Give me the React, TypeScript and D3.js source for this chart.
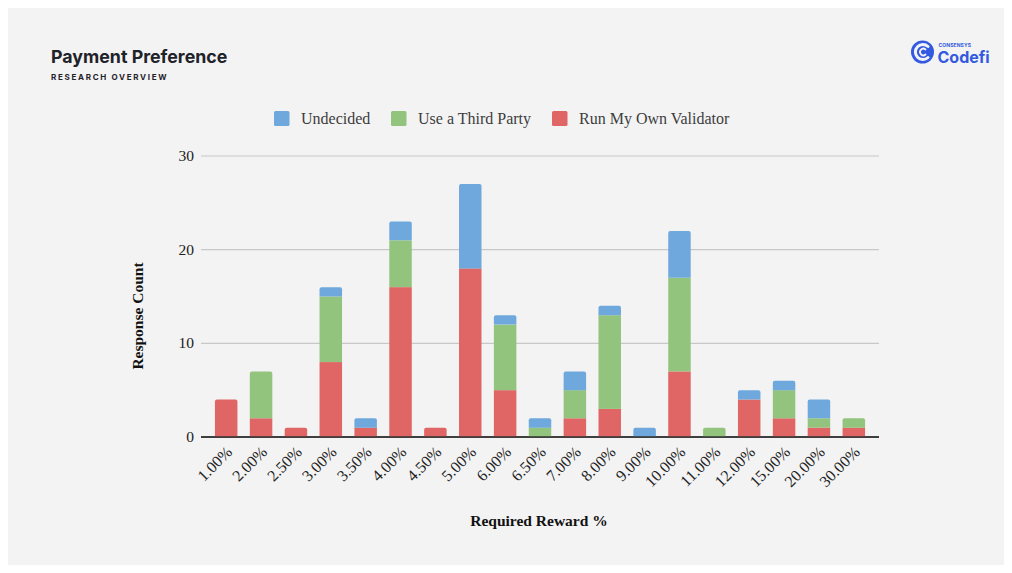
import React from "react";
import * as d3 from "d3";

const categories = ["1.00%", "2.00%", "2.50%", "3.00%", "3.50%", "4.00%", "4.50%", "5.00%", "6.00%", "6.50%", "7.00%", "8.00%", "9.00%", "10.00%", "11.00%", "12.00%", "15.00%", "20.00%", "30.00%"];
const runOwn = [4, 2, 1, 8, 1, 16, 1, 18, 5, 0, 2, 3, 0, 7, 0, 4, 2, 1, 1];
const thirdParty = [0, 5, 0, 7, 0, 5, 0, 0, 7, 1, 3, 10, 0, 10, 1, 0, 3, 1, 1];
const undecided = [0, 0, 0, 1, 1, 2, 0, 9, 1, 1, 2, 1, 1, 5, 0, 1, 1, 2, 0];
const yTicks = [0, 10, 20, 30];
const seriesNames = ["Run My Own Validator", "Use a Third Party", "Undecided"];
const legendOrder = ["Undecided", "Use a Third Party", "Run My Own Validator"];
const colors: Record<string, string> = {
  "Run My Own Validator": "#e06666",
  "Use a Third Party": "#93c47d",
  "Undecided": "#6fa8dc",
};

const SERIF = "'Liberation Serif', 'Times New Roman', serif";
const SANS = "Inter, 'Noto Sans', sans-serif";

function topRoundedRect(x: number, y: number, w: number, h: number, r: number) {
  const rr = Math.min(r, h);
  const p = d3.path();
  p.moveTo(x, y + h);
  p.lineTo(x, y + rr);
  p.quadraticCurveTo(x, y, x + rr, y);
  p.lineTo(x + w - rr, y);
  p.quadraticCurveTo(x + w, y, x + w, y + rr);
  p.lineTo(x + w, y + h);
  p.closePath();
  return p.toString();
}

export default function App() {
  const x = d3.scaleBand<string>().domain(categories).range([201, 879]).paddingInner(0.355).paddingOuter(0.4);
  const y = d3.scaleLinear().domain([0, 30]).range([437, 156]);

  const table = categories.map((c, i) => ({
    cat: c,
    "Run My Own Validator": runOwn[i],
    "Use a Third Party": thirdParty[i],
    "Undecided": undecided[i],
  }));
  const stack = d3.stack<any>().keys(seriesNames)(table);

  const topKey: Record<string, string> = {};
  table.forEach((row: any) => {
    let k = "";
    seriesNames.forEach((s) => { if (row[s] > 0) k = s; });
    topKey[row.cat] = k;
  });

  const legendX: Record<string, number> = { "Undecided": 274, "Use a Third Party": 391, "Run My Own Validator": 552 };

  return (
    <svg width={996} height={557} style={{ display: "block" }}>
      <g transform="translate(-8,-8)">
        <rect x={8} y={8} width={996} height={557} fill="#f3f3f3" />
        <text x={51} y={63} fontFamily={SANS} fontWeight={700} fontSize={17.8} fill="#1f2229">Payment Preference</text>
        <text x={51} y={80} fontFamily={SANS} fontWeight={700} fontSize={8} letterSpacing={1.7} fill="#1f2229">RESEARCH OVERVIEW</text>

        {/* logo */}
        <g>
          <circle cx={922.5} cy={52} r={11.5} fill="#3259e0" />
          <path d="M 928 46.5 A 7.5 7.5 0 1 0 928 57.5" fill="none" stroke="#f3f3f3" strokeWidth={3} strokeLinecap="round" />
          <path d="M 925.5 49.5 A 3.3 3.3 0 1 0 925.5 54.5" fill="none" stroke="#f3f3f3" strokeWidth={1.8} strokeLinecap="round" />
          <text x={938.5} y={46.5} fontFamily={SANS} fontWeight={700} fontSize={5} fill="#3259e0" letterSpacing={0.1}>CONSENSYS</text>
          <text x={937.5} y={63} fontFamily={SANS} fontWeight={700} fontSize={16} fill="#3259e0">Codefi</text>
        </g>

        {/* legend */}
        {legendOrder.map((s) => (
          <g key={s}>
            <rect x={legendX[s]} y={111} width={15.5} height={15} rx={1.5} fill={colors[s]} />
            <text x={legendX[s] + 27} y={124} fontFamily={SERIF} fontSize={16} fill="#3d3d3d">{s}</text>
          </g>
        ))}

        {/* grid */}
        {yTicks.map((t) => (
          <g key={t}>
            <line x1={201} x2={879} y1={y(t)} y2={y(t)} stroke={t === 0 ? "#333" : "#c8c8c8"} strokeWidth={t === 0 ? 1.3 : 1.2} />
            <text x={194} y={y(t) + 5} textAnchor="end" fontFamily={SERIF} fontSize={15.5} fill="#222">{t}</text>
          </g>
        ))}

        {/* bars */}
        {stack.map((layer) => (
          <g key={layer.key} fill={colors[layer.key]}>
            {layer.map((d: any, i: number) => {
              const h = y(d[0]) - y(d[1]);
              if (h <= 0) return null;
              const xx = x(categories[i])!;
              const isTop = topKey[categories[i]] === layer.key;
              return isTop ? (
                <path key={i} d={topRoundedRect(xx, y(d[1]), x.bandwidth(), h, 2)} />
              ) : (
                <rect key={i} x={xx} y={y(d[1])} width={x.bandwidth()} height={h} />
              );
            })}
          </g>
        ))}
        <line x1={201} x2={879} y1={y(0)} y2={y(0)} stroke="#333" strokeWidth={1.3} />

        {/* x labels */}
        {categories.map((c) => {
          const cx = x(c)! + x.bandwidth() / 2 + 7;
          const cy = 453;
          return (
            <text key={c} x={cx} y={cy} transform={`rotate(-45 ${cx} ${cy})`} textAnchor="end" fontFamily={SERIF} fontSize={16} fill="#222">{c}</text>
          );
        })}

        <text x={539} y={526} textAnchor="middle" fontFamily={SERIF} fontWeight={700} fontSize={15.5} fill="#111">Required Reward %</text>
        <text transform="translate(143,316) rotate(-90)" textAnchor="middle" fontFamily={SERIF} fontWeight={700} fontSize={15.5} fill="#111">Response Count</text>
      </g>
    </svg>
  );
}
